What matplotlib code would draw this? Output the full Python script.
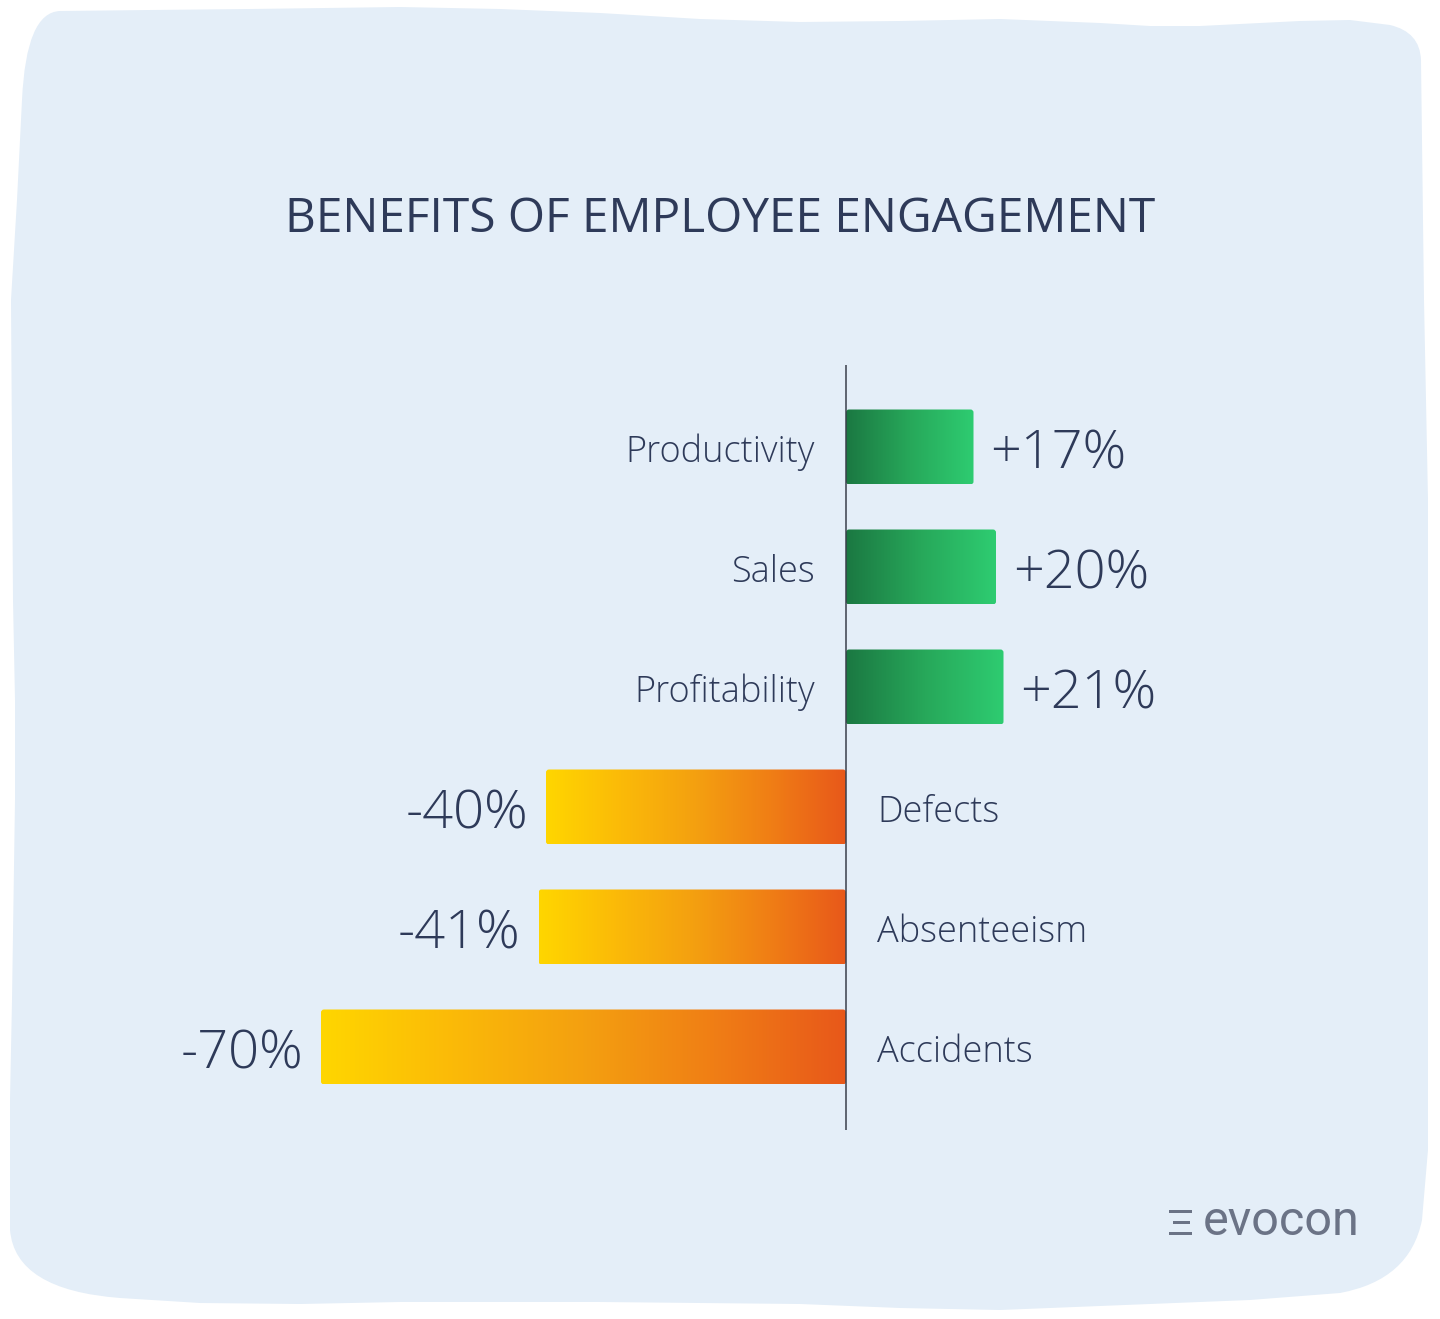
import numpy as np
import matplotlib
matplotlib.use("Agg")
import matplotlib.pyplot as plt
from matplotlib.path import Path
from matplotlib.patches import PathPatch, FancyBboxPatch, Rectangle
from matplotlib.colors import LinearSegmentedColormap

# ---------------- data ----------------
categories = ["Productivity", "Sales", "Profitability", "Defects", "Absenteeism", "Accidents"]
values = [17, 20, 21, -40, -41, -70]
value_labels = ["+17%", "+20%", "+21%", "-40%", "-41%", "-70%"]
title = "BENEFITS OF EMPLOYEE ENGAGEMENT"
brand = "evocon"

# ---------------- style ----------------
W, H = 1440, 1319
TEXT = "#2E3A59"
BLOB = "#E4EEF8"
FONT = ["Open Sans", "DejaVu Sans"]
green_cmap = LinearSegmentedColormap.from_list("g", ["#1B7842", "#27A85A", "#2ECC71"])
orange_cmap = LinearSegmentedColormap.from_list("o", ["#E8581A", "#F07E15", "#F4A010", "#FBBA08", "#FFD600"])

fig = plt.figure(figsize=(W / 100, H / 100), dpi=100)
fig.patch.set_facecolor("white")

# background blob
axbg = fig.add_axes([0, 0, 1, 1], zorder=0)
axbg.set_xlim(0, W)
axbg.set_ylim(H, 0)
axbg.axis("off")
top = [(150, 10), (250, 9), (400, 7), (500, 9), (600, 13), (700, 19), (800, 22), (900, 21),
       (1000, 19), (1100, 23), (1150, 26), (1200, 26), (1300, 21), (1350, 20), (1390, 25)]
right = [(1424, 300), (1428, 500), (1428, 1000), (1428, 1150), (1422, 1220)]
bottom = [(1250, 1300), (1100, 1306), (1000, 1310), (900, 1308), (800, 1304), (600, 1302),
          (400, 1302), (300, 1304), (200, 1303), (120, 1298)]
left = [(10, 1100), (12, 1000), (15, 800), (15, 700), (13, 600), (11, 300), (17, 200), (22, 100)]
verts, codes = [(60, 11)], [Path.MOVETO]
for p in top:
    verts.append(p); codes.append(Path.LINETO)
verts += [(1420, 32), (1421, 60)]; codes += [Path.CURVE3, Path.CURVE3]
for p in right:
    verts.append(p); codes.append(Path.LINETO)
verts += [(1410, 1280), (1340, 1293)]; codes += [Path.CURVE3, Path.CURVE3]
for p in bottom:
    verts.append(p); codes.append(Path.LINETO)
verts += [(15, 1290), (10, 1230)]; codes += [Path.CURVE3, Path.CURVE3]
for p in left:
    verts.append(p); codes.append(Path.LINETO)
verts += [(26, 12), (60, 11), (60, 11)]; codes += [Path.CURVE3, Path.CURVE3, Path.CLOSEPOLY]
axbg.add_patch(PathPatch(Path(verts, codes), facecolor=BLOB, edgecolor="none"))

# main axes: 0 at x=846 px, 7.5 px per percent, rows 120 px apart
XMIN, XMAX = -80, 50
px0 = 846 + 7.5 * XMIN
px1 = 846 + 7.5 * XMAX
py0, py1 = 365, 1130
ax = fig.add_axes([px0 / W, 1 - py1 / H, (px1 - px0) / W, (py1 - py0) / H], zorder=1)
ax.patch.set_alpha(0)
ylo = (py0 - 447) / 120
yhi = (py1 - 447) / 120
bar_h = 75 / 120

VAL_FS = 39
CAT_FS = 26
DY = -0.7
grad = np.linspace(0, 1, 256).reshape(1, -1)
for i, (cat, v, lab) in enumerate(zip(categories, values, value_labels)):
    y0, y1 = i - bar_h / 2, i + bar_h / 2
    if v > 0:
        im = ax.imshow(grad, cmap=green_cmap, extent=(0, v, y1, y0), aspect="auto",
                       interpolation="bicubic", zorder=2)
        clip = FancyBboxPatch((0, y0), v, bar_h, boxstyle="round,pad=0,rounding_size=0.4",
                              mutation_aspect=0.0625, transform=ax.transData,
                              facecolor="none", edgecolor="none")
    else:
        im = ax.imshow(grad, cmap=orange_cmap, extent=(0, v, y1, y0), aspect="auto",
                       interpolation="bicubic", zorder=2)
        clip = FancyBboxPatch((v, y0), -v, bar_h, boxstyle="round,pad=0,rounding_size=0.4",
                              mutation_aspect=0.0625, transform=ax.transData,
                              facecolor="none", edgecolor="none")
    ax.add_patch(clip)
    im.set_clip_path(clip)
    if v > 0:
        ax.annotate(lab, xy=(v, i), xytext=(12, DY), textcoords="offset points",
                    ha="left", va="center_baseline", fontsize=VAL_FS, color=TEXT,
                    family=FONT, fontweight="light")
        ax.annotate(cat, xy=(0, i), xytext=(-22.5, DY), textcoords="offset points",
                    ha="right", va="center_baseline", fontsize=CAT_FS, color=TEXT,
                    family=FONT, fontweight="light")
    else:
        ax.annotate(lab, xy=(v, i), xytext=(-13, DY), textcoords="offset points",
                    ha="right", va="center_baseline", fontsize=VAL_FS, color=TEXT,
                    family=FONT, fontweight="light")
        ax.annotate(cat, xy=(0, i), xytext=(22.5, DY), textcoords="offset points",
                    ha="left", va="center_baseline", fontsize=CAT_FS, color=TEXT,
                    family=FONT, fontweight="light")

ax.axvline(0, color="#3A3F4B", lw=1.1, zorder=3)
ax.set_xlim(XMIN, XMAX)
ax.set_ylim(yhi, ylo)
ax.axis("off")

# title
fig.text(0.5, 1 - 232 / H, title, ha="center", va="baseline", fontsize=34.5,
         color=TEXT, family=FONT)

# brand
LOGO = "#6B7386"
for (x0, x1, yy) in [(1169, 1192, 1211), (1173, 1190, 1222), (1169, 1192, 1233)]:
    axbg.add_patch(Rectangle((x0, yy - 1.5), x1 - x0, 3, facecolor=LOGO, edgecolor="none"))
fig.text(1203 / W, 1 - 1235 / H, brand, ha="left", va="baseline", fontsize=35,
         color=LOGO, family=["Roboto", "DejaVu Sans"], fontweight="normal")

fig.savefig("out.png", dpi=100, facecolor="white")
